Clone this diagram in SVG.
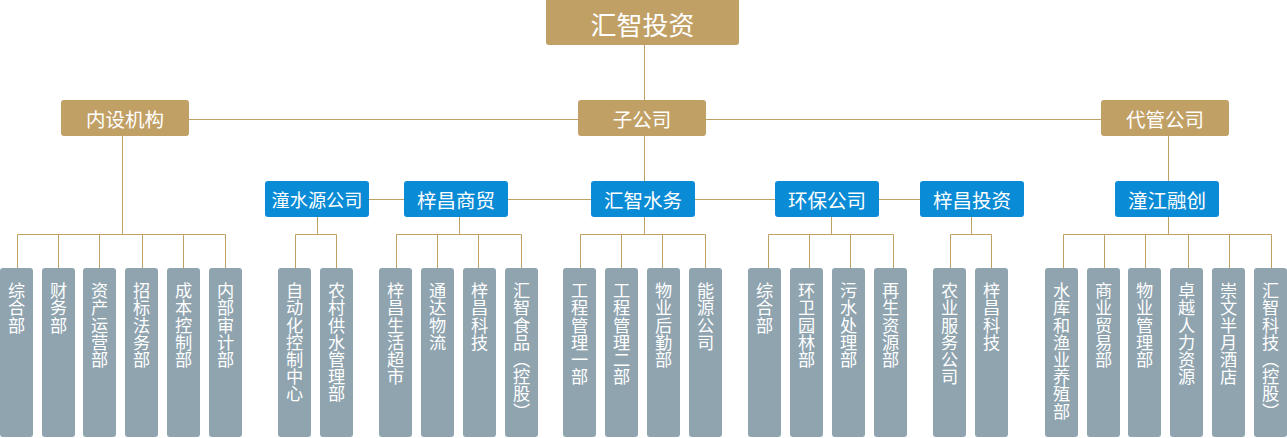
<svg xmlns="http://www.w3.org/2000/svg" width="1287" height="438" viewBox="0 0 1287 438">
<style>
.gold{fill:#C1A066}
.blue{fill:#0A8BD6}
.leaf{fill:#8FA4AF}
.t{font-family:"Noto Sans CJK SC","Noto Sans",sans-serif;fill:#ffffff;text-anchor:middle;dominant-baseline:central}
.lt{font-family:"Noto Sans CJK SC","Noto Sans",sans-serif;fill:#ffffff;font-size:17.2px;writing-mode:vertical-rl;text-anchor:start}
.ln{stroke:#C1A066;stroke-width:1;fill:none}
</style>
<rect width="1287" height="438" fill="#ffffff"/>
<g id="connectors" class="ln">
<path d="M644.5 45V100M189 119.5H578M706 119.5H1101M644.5 136V181M122.5 136V234.5M1168.5 136V181"/>
<path d="M369 199.5H404M508 199.5H591M695 199.5H775M879 199.5H920"/>
<path d="M17.5 268V234.5H225.5V268M58.5 234.5V268M99.5 234.5V268M142.5 234.5V268M183.5 234.5V268"/>
<path d="M317.5 217V234.5M295.5 268V234.5H336.5V268"/>
<path d="M459.5 217V234.5M396.5 268V234.5H521.5V268M437.5 234.5V268M478.5 234.5V268"/>
<path d="M644.5 217V234.5M580.5 268V234.5H705.5V268M621.5 234.5V268M662.5 234.5V268"/>
<path d="M831.5 217V234.5M768.5 268V234.5H893.5V268M809.5 234.5V268M850.5 234.5V268"/>
<path d="M971.5 217V234.5M950.5 268V234.5H991.5V268"/>
<path d="M1168.5 217V234.5M1063.5 268V234.5H1271.5V268M1104.5 234.5V268M1145.5 234.5V268M1188.5 234.5V268M1229.5 234.5V268"/>
</g>
<g id="root"><rect class="gold" x="546" y="-5" width="193" height="50" rx="3"/><text class="t" x="642.5" y="23" font-size="26">汇智投资</text></g>
<g id="neishe"><rect class="gold" x="61" y="100" width="128" height="36" rx="3"/><text class="t" x="125" y="118" font-size="19.5">内设机构</text></g>
<g id="zigongsi"><rect class="gold" x="578" y="100" width="128" height="36" rx="3"/><text class="t" x="642" y="118" font-size="19.5">子公司</text></g>
<g id="daiguan"><rect class="gold" x="1101" y="100" width="128" height="36" rx="3"/><text class="t" x="1165" y="118" font-size="19.5">代管公司</text></g>
<g id="tongshuiyuan"><rect class="blue" x="265" y="181" width="104" height="36" rx="3"/><text class="t" x="317" y="199" font-size="18.2">潼水源公司</text></g>
<g id="zichangshangmao"><rect class="blue" x="404" y="181" width="104" height="36" rx="3"/><text class="t" x="456" y="199" font-size="19.5">梓昌商贸</text></g>
<g id="huizhishuiwu"><rect class="blue" x="591" y="181" width="104" height="36" rx="3"/><text class="t" x="643" y="199" font-size="19.5">汇智水务</text></g>
<g id="huanbao"><rect class="blue" x="775" y="181" width="104" height="36" rx="3"/><text class="t" x="827" y="199" font-size="19.5">环保公司</text></g>
<g id="zichangtouzi"><rect class="blue" x="920" y="181" width="104" height="36" rx="3"/><text class="t" x="972" y="199" font-size="19.5">梓昌投资</text></g>
<g id="tongjiang"><rect class="blue" x="1115" y="181" width="104" height="36" rx="3"/><text class="t" x="1167" y="199" font-size="19.5">潼江融创</text></g>
<g id="l1"><rect class="leaf" x="0" y="268" width="33" height="169" rx="3"/><text class="lt" x="16.5" y="282">综合部</text></g>
<g id="l2"><rect class="leaf" x="42" y="268" width="33" height="169" rx="3"/><text class="lt" x="58.5" y="282">财务部</text></g>
<g id="l3"><rect class="leaf" x="83" y="268" width="33" height="169" rx="3"/><text class="lt" x="99.5" y="282">资产运营部</text></g>
<g id="l4"><rect class="leaf" x="125" y="268" width="33" height="169" rx="3"/><text class="lt" x="141.5" y="282">招标法务部</text></g>
<g id="l5"><rect class="leaf" x="167" y="268" width="33" height="169" rx="3"/><text class="lt" x="183.5" y="282">成本控制部</text></g>
<g id="l6"><rect class="leaf" x="209" y="268" width="33" height="169" rx="3"/><text class="lt" x="225.5" y="282">内部审计部</text></g>
<g id="l7"><rect class="leaf" x="278" y="268" width="33" height="169" rx="3"/><text class="lt" x="294.5" y="282">自动化控制中心</text></g>
<g id="l8"><rect class="leaf" x="320" y="268" width="33" height="169" rx="3"/><text class="lt" x="336.5" y="282">农村供水管理部</text></g>
<g id="l9"><rect class="leaf" x="379" y="268" width="33" height="169" rx="3"/><text class="lt" x="395.5" y="282">梓昌生活超市</text></g>
<g id="l10"><rect class="leaf" x="421" y="268" width="33" height="169" rx="3"/><text class="lt" x="437.5" y="282">通达物流</text></g>
<g id="l11"><rect class="leaf" x="463" y="268" width="33" height="169" rx="3"/><text class="lt" x="479.5" y="282">梓昌科技</text></g>
<g id="l12"><rect class="leaf" x="505" y="268" width="33" height="169" rx="3"/><text class="lt" x="521.5" y="282">汇智食品（控股）</text></g>
<g id="l13"><rect class="leaf" x="563" y="268" width="33" height="169" rx="3"/><text class="lt" x="579.5" y="282">工程管理一部</text></g>
<g id="l14"><rect class="leaf" x="605" y="268" width="33" height="169" rx="3"/><text class="lt" x="621.5" y="282">工程管理二部</text></g>
<g id="l15"><rect class="leaf" x="647" y="268" width="33" height="169" rx="3"/><text class="lt" x="663.5" y="282">物业后勤部</text></g>
<g id="l16"><rect class="leaf" x="689" y="268" width="33" height="169" rx="3"/><text class="lt" x="705.5" y="282">能源公司</text></g>
<g id="l17"><rect class="leaf" x="748" y="268" width="33" height="169" rx="3"/><text class="lt" x="764.5" y="282">综合部</text></g>
<g id="l18"><rect class="leaf" x="790" y="268" width="33" height="169" rx="3"/><text class="lt" x="806.5" y="282">环卫园林部</text></g>
<g id="l19"><rect class="leaf" x="832" y="268" width="33" height="169" rx="3"/><text class="lt" x="848.5" y="282">污水处理部</text></g>
<g id="l20"><rect class="leaf" x="874" y="268" width="33" height="169" rx="3"/><text class="lt" x="890.5" y="282">再生资源部</text></g>
<g id="l21"><rect class="leaf" x="933" y="268" width="33" height="169" rx="3"/><text class="lt" x="949.5" y="282">农业服务公司</text></g>
<g id="l22"><rect class="leaf" x="975" y="268" width="33" height="169" rx="3"/><text class="lt" x="991.5" y="282">梓昌科技</text></g>
<g id="l23"><rect class="leaf" x="1045" y="268" width="33" height="169" rx="3"/><text class="lt" x="1061.5" y="282">水库和渔业养殖部</text></g>
<g id="l24"><rect class="leaf" x="1087" y="268" width="33" height="169" rx="3"/><text class="lt" x="1103.5" y="282">商业贸易部</text></g>
<g id="l25"><rect class="leaf" x="1128" y="268" width="33" height="169" rx="3"/><text class="lt" x="1144.5" y="282">物业管理部</text></g>
<g id="l26"><rect class="leaf" x="1170" y="268" width="33" height="169" rx="3"/><text class="lt" x="1186.5" y="282">卓越人力资源</text></g>
<g id="l27"><rect class="leaf" x="1212" y="268" width="33" height="169" rx="3"/><text class="lt" x="1228.5" y="282">崇文半月酒店</text></g>
<g id="l28"><rect class="leaf" x="1254" y="268" width="33" height="169" rx="3"/><text class="lt" x="1270.5" y="282">汇智科技（控股）</text></g>
</svg>
